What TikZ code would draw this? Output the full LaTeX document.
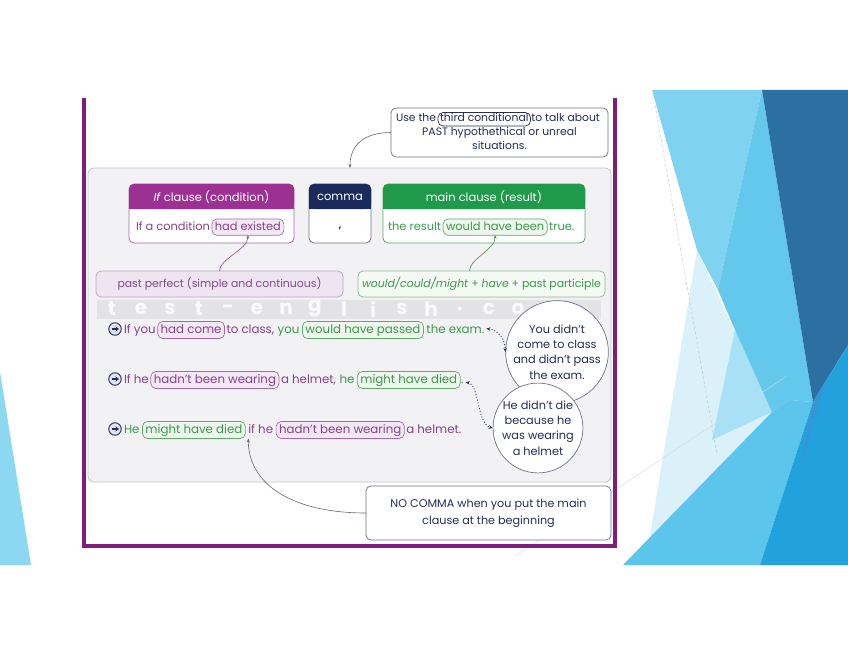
\documentclass[tikz,border=0pt]{standalone}
\usepackage{fontspec}
\setmainfont{Poppins}
\usetikzlibrary{arrows.meta,calc}
\definecolor{framepur}{HTML}{7D1E7E}
\definecolor{hpur}{HTML}{9C3193}
\definecolor{hnavy}{HTML}{1B2A5C}
\definecolor{hgreen}{HTML}{1E9A4A}
\definecolor{ptext}{HTML}{8A3F8F}
\definecolor{gtext}{HTML}{3A9A4A}
\definecolor{pborder}{HTML}{A56AAB}
\definecolor{pfill}{HTML}{F3E9F4}
\definecolor{gborder}{HTML}{5FAA68}
\definecolor{gfill}{HTML}{EEF6EE}
\definecolor{navytext}{HTML}{252D58}
\definecolor{callborder}{HTML}{6D7186}
\definecolor{panelfill}{HTML}{F2F2F4}
\definecolor{panelborder}{HTML}{C9BFD1}
\definecolor{ppfill}{HTML}{EEE5F1}
\definecolor{ppborder}{HTML}{BFA2C6}
\definecolor{pptext}{HTML}{7E4C86}
\definecolor{wwfill}{HTML}{F5F9F3}
\definecolor{wwborder}{HTML}{88BE8F}
\definecolor{decoleft}{HTML}{8CD7F2}
\definecolor{decopale}{HTML}{DAF1FA}
\definecolor{decolight}{HTML}{80D3F0}
\definecolor{decolight2}{HTML}{A8E1F5}
\definecolor{decomed}{HTML}{63C8EC}
\definecolor{decodark}{HTML}{2B6FA3}
\definecolor{decoband}{HTML}{5CC5EB}
\definecolor{decobright}{HTML}{22A2DC}
\definecolor{decomid}{HTML}{3596D3}
\definecolor{iconfill}{HTML}{DDE3F0}
\begin{document}
\begin{tikzpicture}[x=1pt,y=-1pt,
  txt/.style={inner sep=0pt, outer sep=0pt, anchor=base west},
  sfont/.style={font=\fontsize{11.8}{13}\selectfont},
  bfont/.style={font=\fontsize{11.4}{13}\selectfont},
  lfont/.style={font=\fontsize{10.9}{12}\selectfont},
  cfont/.style={font=\fontsize{10.8}{12}\selectfont},
  sp/.style={txt, sfont, text=ptext},
  sg/.style={txt, sfont, text=gtext},
  pillbase/.style={draw, rounded corners=5pt, inner xsep=3pt, inner ysep=2.5pt, outer sep=0pt, anchor=base west, line width=0.7pt},
  spillp/.style={pillbase, sfont, text height=9pt, text depth=3pt, draw=pborder, fill=pfill, text=ptext},
  spillg/.style={pillbase, sfont, text height=9pt, text depth=3pt, draw=gborder, fill=gfill, text=gtext},
  bpillp/.style={pillbase, bfont, text height=8.5pt, text depth=2.8pt, draw=pborder, fill=pfill, text=ptext},
  bpillg/.style={pillbase, bfont, text height=8.5pt, text depth=2.8pt, draw=gborder, fill=gfill, text=gtext},
  callbox/.style={draw=callborder, fill=white, rounded corners=5pt, line width=0.7pt, inner sep=0pt, outer sep=0pt},
  ct/.style={txt, cfont, text=navytext},
  bodybox/.style={fill=white, rounded corners=5pt, line width=0.8pt, inner sep=0pt, outer sep=0pt, anchor=north west, minimum height=59pt},
  htxt/.style={inner sep=0pt, text=white, font=\fontsize{11.5}{13}\selectfont},
  lowbox/.style={rounded corners=5pt, line width=0.7pt, inner sep=0pt, outer sep=0pt, anchor=north west, minimum width=247pt, minimum height=26pt, lfont},
  conn/.style={draw=callborder!90!black, line width=0.6pt, -{Stealth[length=4pt,width=3pt]}},
  pconn/.style={draw=pborder!80!black, line width=0.6pt, -{Stealth[length=3.5pt,width=3pt]}},
  gconn/.style={draw=gborder!80!black, line width=0.6pt, -{Stealth[length=3.5pt,width=3pt]}},
  dotarrow/.style={draw=navytext, line width=0.9pt, dotted, {Stealth[length=4pt,width=3.5pt]}-{Stealth[length=4pt,width=3.5pt]}},
  icon/.style={circle, draw=navytext, fill=iconfill, line width=0.9pt, minimum size=12.5pt, inner sep=0pt},
  iconarrow/.style={navytext, line width=1.5pt, -{Stealth[length=3.5pt,width=5pt]}},
  circ/.style={circle, draw=callborder, fill=white, line width=0.7pt, align=center, text=navytext, inner sep=0pt, font=\fontsize{11.3}{15.3}\selectfont},
  wm/.style={inner sep=0pt, text=white, text opacity=0.85, font=\fontsize{20}{22}\selectfont\bfseries}
]
\useasboundingbox (0,0) rectangle (848,655);
\fill[white] (0,0) rectangle (848,655);
% left decoration
\fill[decoleft] (0,372) -- (31,565) -- (0,565) -- cycle;
% right decoration
\fill[decopale] (697,250) -- (772,412) -- (648,548) -- cycle;
\fill[decolight2] (735,330) -- (772,412) -- (712,440) -- cycle;
\fill[decolight] (652,90) -- (762,90) -- (718,290) -- (697,250) -- cycle;
\fill[decomed] (762,90) -- (813,402) -- (790,400) -- (772,412) -- (735,330) -- (718,290) -- cycle;
\fill[decodark] (762,90) -- (848,90) -- (848,345) -- (813,402) -- cycle;
\fill[decoband] (623,565) -- (772,412) -- (790,400) -- (813,402) -- (760,565) -- cycle;
\fill[decobright] (760,565) -- (813,402) -- (848,345) -- (848,565) -- cycle;
\fill[decomid] (813,402) -- (826,380) -- (800,470) -- cycle;
\draw[densely dashed, draw=decodark!40, line width=0.4pt] (655,105) -- (717,455);
\draw[draw=decodark!25, line width=0.4pt] (515,556) -- (787,376);
% purple frame
\fill[framepur] (82,98) rectangle (86,548);
\fill[framepur] (613,98) rectangle (617,548);
\fill[framepur] (82,544) rectangle (617,548);
% main panel
\node[draw=panelborder, fill=panelfill, rounded corners=6pt, line width=0.8pt, minimum width=523pt, minimum height=314pt, anchor=north west, inner sep=0pt, outer sep=0pt] (panel) at (88,168) {};
% top callout
\node[callbox, minimum width=217pt, minimum height=49pt, anchor=north west] (callout) at (391,108) {};
\node[ct] (cl1a) at (396,122) {Use the};
\node[pillbase, cfont, text height=8pt, text depth=2.5pt, inner ysep=1.5pt, inner xsep=2pt, draw=navytext, text=navytext, fill=white] (cl1b) at ([xshift=2]cl1a.base east) {third conditional};
\node[ct] (cl1c) at ([xshift=1]cl1b.base east) {to talk about};
\node[ct, anchor=base] (cl2) at (499.5,136) {PAST hypothethical or unreal};
\node[ct, anchor=base] (cl3) at (499.5,150) {situations.};
\draw[conn] (callout.west) .. controls +(-28,0) and +(0,-22) .. ($(panel.north west)+(262,0)$);
% header boxes
\node[bodybox, draw=pborder, minimum width=165pt] (bIf) at (129,184) {};
\fill[hpur, rounded corners=5pt] (129,184) rectangle (294,209);
\fill[hpur] (129,200) rectangle (294,209);
\node[htxt] (hIf) at (211.5,197) {\textit{If} clause (condition)};
\node[txt, bfont, text=ptext] (bIf1) at (136,230) {If a condition};
\node[bpillp] (hadex) at ([xshift=2]bIf1.base east) {had existed};

\node[bodybox, draw=callborder, minimum width=62pt] (bCm) at (309,184) {};
\fill[hnavy, rounded corners=5pt] (309,184) rectangle (371,209);
\fill[hnavy] (309,200) rectangle (371,209);
\node[htxt] (hCm) at (340,197) {comma};
\node[inner sep=0pt, text=navytext, font=\fontsize{10}{11}\selectfont\bfseries] (bCm1) at (340,228) {,};

\node[bodybox, draw=gborder, minimum width=202pt] (bMn) at (383,184) {};
\fill[hgreen, rounded corners=5pt] (383,184) rectangle (585,209);
\fill[hgreen] (383,200) rectangle (585,209);
\node[htxt] (hMn) at (484,197) {main clause (result)};
\node[txt, bfont, text=gtext] (bMn1) at (388,230) {the result};
\node[bpillg] (wbeen) at ([xshift=2]bMn1.base east) {would have been};
\node[txt, bfont, text=gtext] (bMn2) at ([xshift=2]wbeen.base east) {true.};
% lower boxes
\node[lowbox, draw=ppborder, fill=ppfill, text=pptext] (pp) at (96,271) {past perfect (simple and continuous)};
\node[lowbox, draw=wwborder, fill=wwfill, text=gtext] (ww) at (358,271) {\textit{would/could/might} + \textit{have} + past participle};
\draw[pconn] (pp.north) .. controls +(0,-12) and +(0,14) .. (hadex.south);
\draw[gconn] ([xshift=-12]ww.north) .. controls +(0,-12) and +(0,14) .. (wbeen.south);
% watermark
\fill[black, opacity=0.06] (97,300) rectangle (601,319);
\foreach \c [count=\i from 0] in {t,e,s,t,-,e,n,g,l,i,s,h,.,c,o,m}
  \node[wm] (wm\i) at (112+\i*29,309) {\c};
% sentence 1
\node[icon] (i1) at (115,329) {};
\draw[iconarrow] ([xshift=-3.5]i1.center) -- ([xshift=4]i1.center);
\node[sp] (s1a) at (124,333) {If you};
\node[spillp] (s1b) at ([xshift=2]s1a.base east) {had come};
\node[sp] (s1c) at ([xshift=2]s1b.base east) {to class,};
\node[sg] (s1d) at ([xshift=3.5]s1c.base east) {you};
\node[spillg] (s1e) at ([xshift=3]s1d.base east) {would have passed};
\node[sg] (s1f) at ([xshift=3]s1e.base east) {the exam.};
% sentence 2
\node[icon] (i2) at (115,379) {};
\draw[iconarrow] ([xshift=-3.5]i2.center) -- ([xshift=4]i2.center);
\node[sp] (s2a) at (124,383) {If he};
\node[spillp] (s2b) at ([xshift=2]s2a.base east) {hadn't been wearing};
\node[sp] (s2c) at ([xshift=2]s2b.base east) {a helmet,};
\node[sg] (s2d) at ([xshift=3.5]s2c.base east) {he};
\node[spillg] (s2e) at ([xshift=3]s2d.base east) {might have died};
\node[sg] (s2f) at ([xshift=1]s2e.base east) {.};
% sentence 3
\node[icon] (i3) at (115,429) {};
\draw[iconarrow] ([xshift=-3.5]i3.center) -- ([xshift=4]i3.center);
\node[sg] (s3a) at (124,433) {He};
\node[spillg] (s3b) at ([xshift=3]s3a.base east) {might have died};
\node[sp] (s3c) at ([xshift=3]s3b.base east) {if he};
\node[spillp] (s3d) at ([xshift=3]s3c.base east) {hadn't been wearing};
\node[sp] (s3e) at ([xshift=2]s3d.base east) {a helmet.};
% circles
\node[circ, minimum size=100pt] (c1) at (557,352) {You didn't\\come to class\\and didn't pass\\the exam.};
\node[circ, minimum size=86pt] (c2) at (538,428) {He didn't die\\because he\\was wearing\\a helmet};
\draw[dotarrow] ([xshift=2]s1f.east) .. controls +(12,1) and +(0,-12) .. (c1.west);
\draw[dotarrow] ([xshift=2]s2f.east) .. controls +(14,2) and +(-16,-4) .. (c2.west);
% bottom callout
\node[callbox, minimum width=245pt, minimum height=54pt, align=center, text=navytext, font=\fontsize{11.2}{17}\selectfont] (nocomma) at (488.5,513) {NO COMMA when you put the main\\clause at the beginning};
\draw[conn] (nocomma.west) .. controls +(-75,0) and +(0,45) .. ([xshift=3]s3b.south east);
\end{tikzpicture}
\end{document}
